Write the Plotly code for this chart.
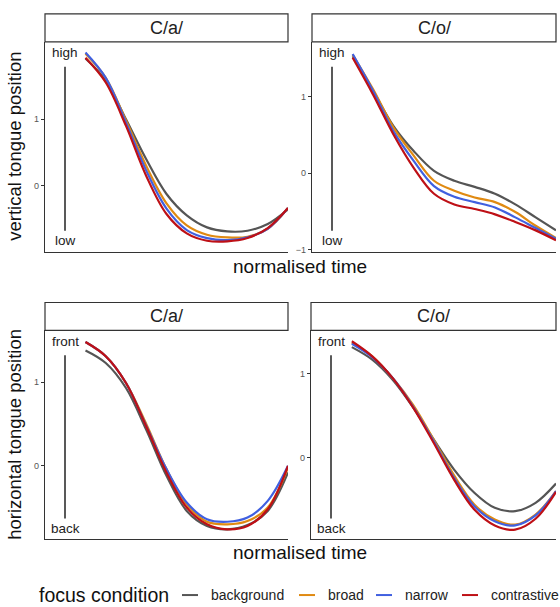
import plotly.graph_objects as go

W, H = 560, 607

time_points = [0.0, 0.1, 0.2, 0.3, 0.4, 0.5, 0.6, 0.7, 0.8, 0.9, 1.0]
conditions = ["background", "broad", "narrow", "contrastive"]
colors = {"background": "#555555", "broad": "#E08A12", "narrow": "#4060E0", "contrastive": "#BE1016"}

# vertical tongue position, C/a/
vert_a_background = [1.91, 1.58, 1.00, 0.40, -0.12, -0.44, -0.62, -0.68, -0.67, -0.57, -0.35]
vert_a_broad = [1.98, 1.62, 0.98, 0.30, -0.26, -0.59, -0.73, -0.77, -0.76, -0.64, -0.33]
vert_a_narrow = [2.00, 1.62, 0.95, 0.23, -0.34, -0.66, -0.78, -0.81, -0.77, -0.64, -0.33]
vert_a_contrastive = [1.92, 1.55, 0.90, 0.15, -0.42, -0.71, -0.82, -0.83, -0.78, -0.63, -0.33]

# vertical tongue position, C/o/
vert_o_background = [1.53, 1.08, 0.62, 0.29, 0.03, -0.10, -0.18, -0.27, -0.41, -0.58, -0.75]
vert_o_broad = [1.55, 1.10, 0.60, 0.23, -0.10, -0.23, -0.32, -0.38, -0.51, -0.69, -0.85]
vert_o_narrow = [1.56, 1.08, 0.55, 0.16, -0.17, -0.31, -0.38, -0.45, -0.58, -0.72, -0.86]
vert_o_contrastive = [1.51, 1.03, 0.51, 0.07, -0.27, -0.41, -0.47, -0.54, -0.64, -0.75, -0.88]

# horizontal tongue position, C/a/
horiz_a_background = [1.38, 1.23, 0.93, 0.43, -0.12, -0.54, -0.72, -0.76, -0.71, -0.54, -0.08]
horiz_a_broad = [1.48, 1.31, 0.99, 0.50, -0.04, -0.46, -0.67, -0.70, -0.66, -0.50, -0.02]
horiz_a_narrow = [1.48, 1.31, 0.99, 0.48, -0.04, -0.44, -0.64, -0.67, -0.62, -0.42, 0.00]
horiz_a_contrastive = [1.48, 1.31, 0.99, 0.47, -0.08, -0.50, -0.70, -0.76, -0.72, -0.52, 0.00]

# horizontal tongue position, C/o/
horiz_o_background = [1.32, 1.17, 0.93, 0.60, 0.22, -0.14, -0.42, -0.60, -0.64, -0.54, -0.31]
horiz_o_broad = [1.37, 1.21, 0.95, 0.63, 0.22, -0.21, -0.56, -0.74, -0.80, -0.68, -0.40]
horiz_o_narrow = [1.36, 1.20, 0.95, 0.61, 0.20, -0.24, -0.58, -0.76, -0.81, -0.69, -0.40]
horiz_o_contrastive = [1.39, 1.21, 0.95, 0.60, 0.18, -0.26, -0.62, -0.81, -0.86, -0.73, -0.41]

panel_titles = ["C/a/", "C/o/", "C/a/", "C/o/"]
y_titles = ["vertical tongue position", "horizontal tongue position"]
x_title = "normalised time"
top_labels = ["high", "front"]
bottom_labels = ["low", "back"]
legend_title = "focus condition"

panel_data = [
    [vert_a_background, vert_a_broad, vert_a_narrow, vert_a_contrastive],
    [vert_o_background, vert_o_broad, vert_o_narrow, vert_o_contrastive],
    [horiz_a_background, horiz_a_broad, horiz_a_narrow, horiz_a_contrastive],
    [horiz_o_background, horiz_o_broad, horiz_o_narrow, horiz_o_contrastive],
]
y_ranges = [[-0.985, 2.16], [-1.03, 1.72], [-0.88, 1.62], [-0.976, 1.52]]
y_ticks = [[0, 1], [-1, 0, 1], [0, 1], [0, 1]]

# panel pixel boxes (x0, x1, y0_top, y1_bottom)
boxes = [(45, 288, 42, 253), (312, 556, 42, 253), (45, 288, 332, 542), (311, 556, 332, 542)]
strip_tops = [14, 14, 304, 304]


def px(x):
    return x / W


def py(y):
    return 1 - y / H


fig = go.Figure()
FONT = "Liberation Sans, Arial, sans-serif"
AX = "#333333"

layout = dict(
    width=W, height=H, margin=dict(l=0, r=0, t=0, b=0),
    paper_bgcolor="white", plot_bgcolor="white", showlegend=False,
    font=dict(family=FONT, color="#222222"),
)

shapes = []
annotations = []

for i, (x0, x1, y0, y1) in enumerate(boxes):
    n = i + 1
    xa = "xaxis" if n == 1 else f"xaxis{n}"
    ya = "yaxis" if n == 1 else f"yaxis{n}"
    xr = "x" if n == 1 else f"x{n}"
    yr = "y" if n == 1 else f"y{n}"
    layout[xa] = dict(domain=[px(x0), px(x1)], range=[-0.2, 1.0], showticklabels=False,
                      ticks="", showgrid=False, zeroline=False, showline=True,
                      linecolor=AX, linewidth=1.2, anchor=yr)
    layout[ya] = dict(domain=[py(y1), py(y0)], range=y_ranges[i], tickvals=y_ticks[i],
                      ticks="outside", ticklen=3, tickcolor=AX, tickwidth=1,
                      tickfont=dict(size=9, color="#555555", family=FONT),
                      showgrid=False, zeroline=False, showline=True,
                      linecolor=AX, linewidth=1.2, anchor=xr)
    for c, vals in zip(conditions, panel_data[i]):
        fig.add_trace(go.Scatter(x=time_points, y=vals, mode="lines", name=c,
                                 line=dict(color=colors[c], width=2.2, shape="spline"),
                                 xaxis=xr, yaxis=yr, showlegend=False))
    # strip
    st = strip_tops[i]
    shapes.append(dict(type="rect", xref="paper", yref="paper",
                       x0=px(x0), x1=px(x1), y0=py(y0), y1=py(st),
                       line=dict(color=AX, width=1.2), fillcolor="white"))
    annotations.append(dict(text=panel_titles[i], xref="paper", yref="paper",
                            x=px((x0 + x1) / 2), y=py((st + y0) / 2), showarrow=False,
                            xanchor="center", yanchor="middle",
                            font=dict(size=18, color="#222222", family=FONT)))
    # direction labels
    row = 0 if i < 2 else 1
    lx = x0 + 20
    annotations.append(dict(text=top_labels[row], xref="paper", yref="paper",
                            x=px(lx), y=py(y0 + 11), showarrow=False,
                            xanchor="center", yanchor="middle",
                            font=dict(size=13.5, color="#222222", family=FONT)))
    annotations.append(dict(text=bottom_labels[row], xref="paper", yref="paper",
                            x=px(lx), y=py(y1 - 11), showarrow=False,
                            xanchor="center", yanchor="middle",
                            font=dict(size=13.5, color="#222222", family=FONT)))
    shapes.append(dict(type="line", xref="paper", yref="paper",
                       x0=px(lx), x1=px(lx), y0=py(y0 + 25), y1=py(y1 - 21),
                       line=dict(color="#222222", width=1.5)))

# axis titles
for r, (yc, xc_y) in enumerate([(147.5, 268), (437, 555)]):
    annotations.append(dict(text=y_titles[r], xref="paper", yref="paper",
                            x=px(15), y=py(yc), showarrow=False, textangle=-90,
                            xanchor="center", yanchor="middle",
                            font=dict(size=18.5, color="#111111", family=FONT)))
    annotations.append(dict(text=x_title, xref="paper", yref="paper",
                            x=px(300), y=py(xc_y), showarrow=False,
                            xanchor="center", yanchor="middle",
                            font=dict(size=19, color="#111111", family=FONT)))

# legend (manual)
ly = 598
annotations.append(dict(text=legend_title, xref="paper", yref="paper",
                        x=px(37), y=py(ly), showarrow=False, xanchor="left", yanchor="middle",
                        font=dict(size=19.5, color="#111111", family=FONT)))
legend_x = [182, 299, 376, 462]
for c, lx in zip(conditions, legend_x):
    shapes.append(dict(type="line", xref="paper", yref="paper",
                       x0=px(lx), x1=px(lx + 16), y0=py(ly), y1=py(ly),
                       line=dict(color=colors[c], width=2)))
    annotations.append(dict(text=c, xref="paper", yref="paper",
                            x=px(lx + 27), y=py(ly), showarrow=False,
                            xanchor="left", yanchor="middle",
                            font=dict(size=14, color="#222222", family=FONT)))

layout["shapes"] = shapes
layout["annotations"] = annotations
fig.update_layout(**layout)
fig.write_html("out.html", config={"displayModeBar": False},
               post_script="document.body.style.margin='0';document.body.style.padding='0';"
                           "document.body.style.overflow='hidden';")
